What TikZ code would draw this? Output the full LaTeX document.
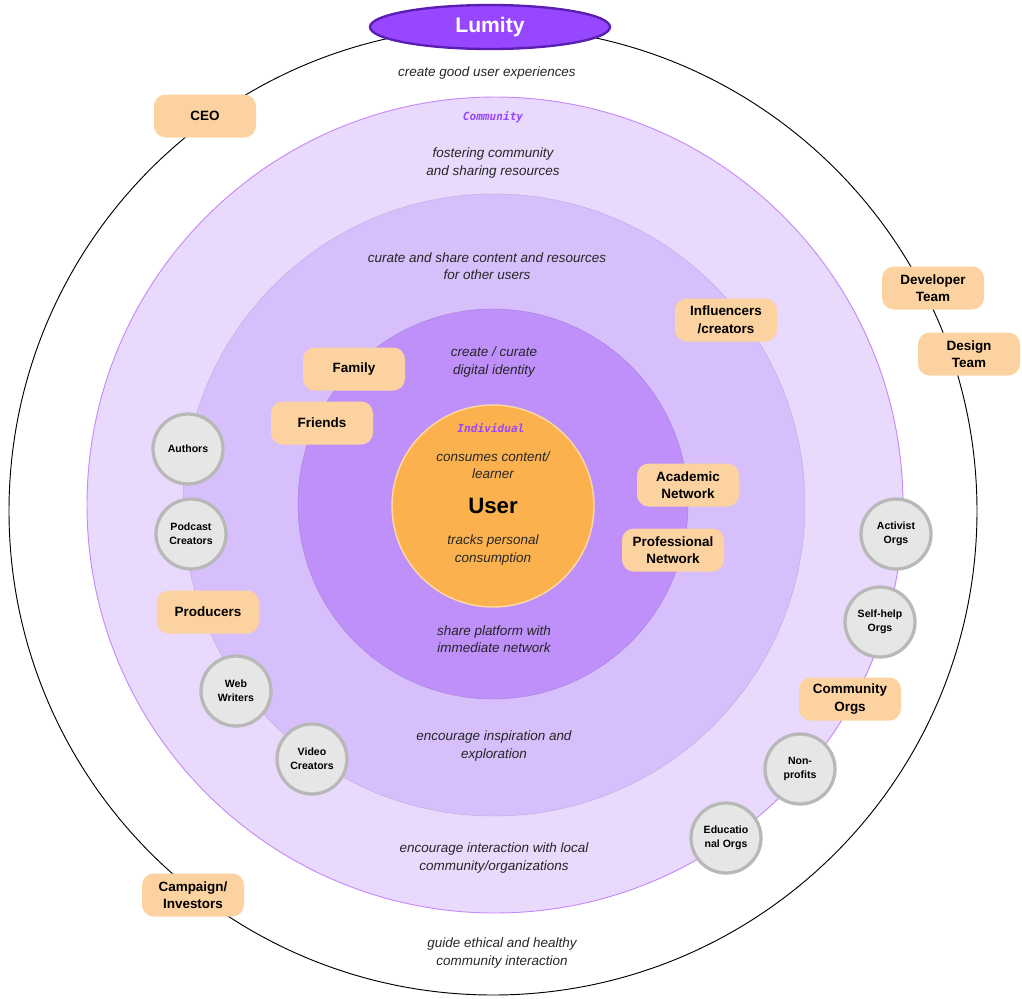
\documentclass[tikz,border=0pt]{standalone}
\usepackage{fontspec}
\usetikzlibrary{shapes.geometric}
\setmainfont{Liberation Sans}
\setmonofont{DejaVu Sans Mono}
\begin{document}
\begin{tikzpicture}[x=0.03cm,y=-0.03cm,
 lab/.style={font=\itshape\fontsize{11.5}{15}\selectfont,align=center,text=black!85},
 pill/.style={rounded corners=10pt,fill=pillc,minimum width=102*0.03cm,minimum height=43*0.03cm,font=\bfseries\fontsize{11.5}{15}\selectfont,align=center,inner sep=1pt},
 gc/.style={circle,fill=grayf,draw=grayb,line width=2.8pt,minimum size=70*0.03cm,inner sep=0pt,font=\bfseries\fontsize{9}{12}\selectfont,align=center}]
\definecolor{pillc}{HTML}{FBD2A0}
\definecolor{grayf}{HTML}{E6E6E6}
\definecolor{grayb}{HTML}{B8B8B8}
\definecolor{c1}{HTML}{E9D9FC}
\definecolor{c2}{HTML}{D7BFFB}
\definecolor{c3}{HTML}{BF8FFA}
\definecolor{cb}{HTML}{C68AF6}
\definecolor{userc}{HTML}{FBB24E}
\definecolor{useb}{HTML}{FFD9A3}
\definecolor{lum}{HTML}{9747FF}
\definecolor{lumb}{HTML}{5A1EB0}
\definecolor{ptxt}{HTML}{9747FF}
\useasboundingbox (0,0) rectangle (1022,999);
\node[circle,draw=black,line width=0.8pt,minimum size=968*0.03cm] (outer) at (493,511) {};
\node[circle,fill=c1,draw=cb,line width=0.8pt,minimum size=816*0.03cm] (comm) at (495,505) {};
\node[circle,fill=c2,draw=c2!90!black,line width=0.4pt,minimum size=622*0.03cm] (mid) at (494,505) {};
\node[circle,fill=c3,draw=c3!90!black,line width=0.4pt,minimum size=390*0.03cm] (inner) at (493,504) {};
\node[circle,fill=userc,draw=useb,line width=1.2pt,minimum size=202*0.03cm] (user) at (493,506) {};
\node[ellipse,fill=lum,draw=lumb,line width=2pt,minimum width=240*0.03cm,minimum height=44*0.03cm,text=white,font=\bfseries\fontsize{18}{20}\selectfont] (lumity) at (490,27) {Lumity};
\node[lab] (t1) at (487,73) {create good user experiences};
\node[font=\ttfamily\itshape\bfseries\fontsize{9.5}{11}\selectfont,text=ptxt] (commlab) at (493,117) {Community};
\node[lab] (t2) at (493,163) {fostering community\\and sharing resources};
\node[lab] (t3) at (487,266) {curate and share content and resources\\for other users};
\node[lab] (t4) at (494,362) {create / curate\\digital identity};
\node[font=\ttfamily\itshape\bfseries\fontsize{9.5}{11}\selectfont,text=ptxt] (indlab) at (491,428) {Individual};
\node[lab] (t5) at (493,465) {consumes content/\\learner};
\node[font=\bfseries\fontsize{19}{22}\selectfont] (usert) at (493,506) {User};
\node[lab] (t6) at (493,550) {tracks personal\\consumption};
\node[lab] (t7) at (494,639) {share platform with\\immediate network};
\node[lab] (t8) at (494,746) {encourage inspiration and\\exploration};
\node[lab] (t9) at (494,858) {encourage interaction with local\\community/organizations};
\node[lab] (t10) at (502,953) {guide ethical and healthy\\community interaction};
\node[pill] (ceo) at (205,116) {CEO};
\node[pill] (dev) at (933,288) {Developer\\Team};
\node[pill] (des) at (969,354) {Design\\Team};
\node[pill] (inf) at (726,320) {Influencers\\/creators};
\node[pill] (fam) at (354,369) {Family};
\node[pill] (fri) at (322,423) {Friends};
\node[pill] (aca) at (688,485) {Academic\\Network};
\node[pill] (pro) at (673,550) {Professional\\Network};
\node[pill] (prod) at (208,612) {Producers};
\node[pill] (corg) at (850,699) {Community\\Orgs};
\node[pill] (camp) at (193,895) {Campaign/\\Investors};
\node[gc] (auth) at (188,449) {Authors};
\node[gc] (pod) at (191,534) {Podcast\\Creators};
\node[gc] (web) at (236,691) {Web\\Writers};
\node[gc] (vid) at (312,759) {Video\\Creators};
\node[gc] (act) at (896,534) {Activist\\Orgs};
\node[gc] (self) at (880,622) {Self-help\\Orgs};
\node[gc] (non) at (800,769) {Non-\\profits};
\node[gc] (edu) at (726,838) {Educatio\\nal Orgs};
\end{tikzpicture}
\end{document}
